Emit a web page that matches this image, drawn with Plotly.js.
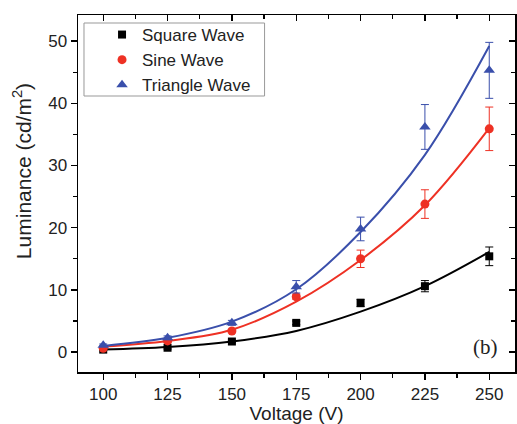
<!DOCTYPE html>
<html>
<head>
<meta charset="utf-8">
<script src="https://cdn.plot.ly/plotly-3.0.1.min.js"></script>
<style>html,body{margin:0;padding:0;background:#fff;}#chart{width:517px;height:424px;}</style>
</head>
<body>
<div id="chart"></div>
<script>
// Measured data
const voltage = [100, 125, 150, 175, 200, 225, 250];
const squareY = [0.4, 0.7, 1.7, 4.7, 7.9, 10.6, 15.4];
const squareErr = [0.1, 0.2, 0.2, 0.3, 0.6, 0.9, 1.5];
const sineY = [0.6, 1.8, 3.4, 8.9, 15.0, 23.8, 35.9];
const sineErr = [0.1, 0.2, 0.3, 0.4, 1.4, 2.3, 3.5];
const triY = [1.1, 2.3, 4.7, 10.5, 19.8, 36.2, 45.3];
const triErr = [0.2, 0.3, 0.4, 1.0, 1.9, 3.6, 4.5];
// Fit curves
const squareFit = [0.4, 0.8, 1.7, 3.4, 6.5, 10.6, 16.1];
const sineFit = [0.9, 1.8, 3.6, 8.1, 14.8, 23.6, 36.0];
const triFit = [1.0, 2.3, 4.9, 10.1, 19.3, 31.7, 49.2];
const xTicks = [100, 125, 150, 175, 200, 225, 250];
const yTicks = [0, 10, 20, 30, 40, 50];

const cBlack = '#000000', cRed = '#ee3124', cBlue = '#3a4fab';

function fit(y, color) {
  return {x: voltage, y: y, mode: 'lines', line: {color: color, width: 2, shape: 'spline', smoothing: 1.0},
          showlegend: false, hoverinfo: 'skip'};
}
function pts(y, err, name, color, sym, size) {
  return {x: voltage, y: y, mode: 'markers', name: name,
          marker: {color: color, symbol: sym, size: size},
          error_y: {type: 'data', array: err, visible: true, color: color, thickness: 1, width: 4}};
}
const data = [
  fit(squareFit, cBlack), fit(sineFit, cRed), fit(triFit, cBlue),
  pts(squareY, squareErr, 'Square Wave', cBlack, 'square', 8),
  pts(sineY, sineErr, 'Sine Wave', cRed, 'circle', 9),
  pts(triY, triErr, 'Triangle Wave', cBlue, 'triangle-up', 10),
  {x: [100], y: [0], xaxis: 'x2', yaxis: 'y2', mode: 'markers', marker: {opacity: 0}, showlegend: false, hoverinfo: 'skip'}
];
const xr = [90.2, 260], yr = [-3.2, 54.2];
const sans = 'Liberation Sans, Arial, sans-serif';
const tickFont = {family: sans, size: 17, color: '#222'};
const layout = {
  width: 517, height: 424,
  margin: {l: 78, r: 2, t: 15, b: 52},
  paper_bgcolor: '#fff', plot_bgcolor: '#fff',
  font: {family: sans, color: '#222'},
  xaxis: {range: xr, tickvals: xTicks, ticks: 'outside', ticklen: 6, tickwidth: 1.3, tickcolor: '#000',
          minor: {ticks: 'outside', dtick: 12.5, tick0: 100, ticklen: 4, tickwidth: 1.3, tickcolor: '#000'},
          showline: true, linecolor: '#000', linewidth: 1.5, showgrid: false, zeroline: false,
          tickfont: tickFont, title: {text: 'Voltage (V)', font: {size: 19, color: '#222'}, standoff: 6}},
  yaxis: {range: yr, tickvals: yTicks, ticks: 'outside', ticklen: 6, tickwidth: 1.3, tickcolor: '#000',
          minor: {ticks: 'outside', dtick: 5, tick0: 0, ticklen: 4, tickwidth: 1.3, tickcolor: '#000'},
          showline: true, linecolor: '#000', linewidth: 1.5, showgrid: false, zeroline: false,
          tickfont: tickFont},
  xaxis2: {range: xr, overlaying: 'x', side: 'top', tickvals: xTicks, ticks: 'inside', ticklen: 6, tickwidth: 1.3, tickcolor: '#000',
           minor: {ticks: 'inside', dtick: 12.5, tick0: 100, ticklen: 4, tickwidth: 1.3, tickcolor: '#000'},
           showticklabels: false, showline: true, linecolor: '#000', linewidth: 1.5, showgrid: false, zeroline: false},
  yaxis2: {range: yr, overlaying: 'y', side: 'right', tickvals: yTicks, ticks: 'inside', ticklen: 6, tickwidth: 1.3, tickcolor: '#000',
           minor: {ticks: 'inside', dtick: 5, tick0: 0, ticklen: 4, tickwidth: 1.3, tickcolor: '#000'},
           showticklabels: false, showline: true, linecolor: '#000', linewidth: 1.5, showgrid: false, zeroline: false},
  legend: {x: 0.055, y: 1 - 45 / 357, xanchor: 'left', yanchor: 'middle', bgcolor: 'rgba(0,0,0,0)', borderwidth: 0,
           font: {family: sans, size: 17, color: '#222'}, itemwidth: 30, tracegroupgap: 0},
  shapes: [{type: 'rect', xref: 'paper', yref: 'paper', x0: 6 / 438, x1: 187 / 438, y0: 1 - 81 / 357, y1: 1 - 8 / 357,
            line: {color: '#999', width: 1}, fillcolor: 'rgba(0,0,0,0)', layer: 'below'}],
  annotations: [
    {xref: 'paper', yref: 'paper', x: 0.965, y: 0.03, xanchor: 'right', yanchor: 'bottom', showarrow: false,
     text: '(b)', font: {family: 'Liberation Serif, Times New Roman, serif', size: 21, color: '#222'}},
    {xref: 'paper', yref: 'paper', x: (22 - 78) / 438, y: 1 - (171 - 15) / 357, xanchor: 'center', yanchor: 'middle',
     showarrow: false, textangle: -90, text: 'Luminance (cd/m<sup>2</sup>)', font: {family: sans, size: 21, color: '#222'}}
  ]
};
Plotly.newPlot('chart', data, layout, {displayModeBar: false, staticPlot: true});
</script>
</body>
</html>
